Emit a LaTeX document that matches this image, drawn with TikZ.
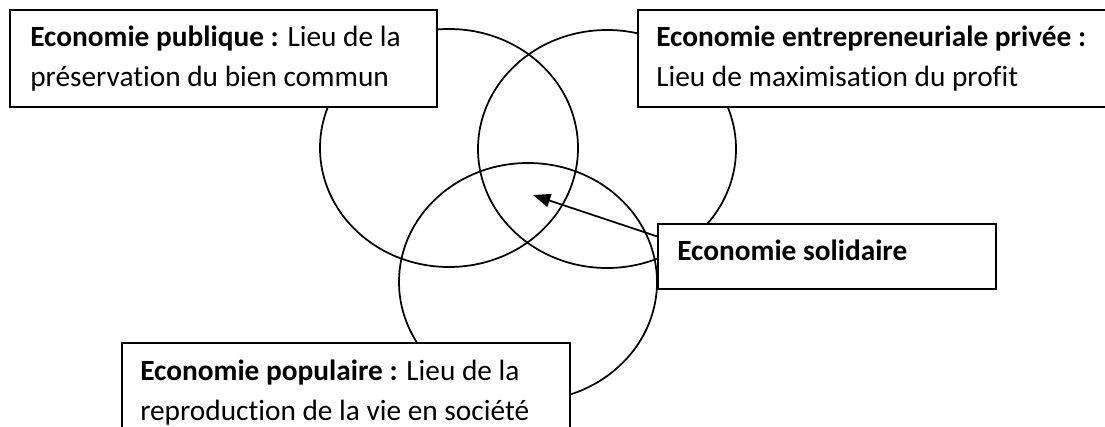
\documentclass[tikz,border=0pt]{standalone}
\usepackage{fontspec}
\setmainfont[Ligatures={NoCommon}]{Carlito}
\usetikzlibrary{arrows.meta,calc}
\begin{document}
\begin{tikzpicture}[x=0.75pt,y=-0.75pt,
  ring/.style={draw=black,line width=1.3pt},
  boxnode/.style={draw=black,fill=white,line width=1.5pt,rectangle,inner sep=0pt,anchor=north west},
  txt/.style={anchor=base west,inner sep=0pt,font=\fontsize{22pt}{30pt}\selectfont},
  pointer/.style={draw=black,line width=1.3pt,-{Triangle[length=13pt,width=10pt]}}]
\useasboundingbox (0,0) rectangle (1105,427);
% circles
\draw[ring] (449,148) ellipse [x radius=129, y radius=119];
\draw[ring] (607,149) ellipse [x radius=129, y radius=119];
\draw[ring] (528,282) ellipse [x radius=129, y radius=119];
% boxes
\node[boxnode,minimum width={427*0.75pt},minimum height={97*0.75pt}] (pub) at (9,9) {};
\node[boxnode,minimum width={480*0.75pt},minimum height={97*0.75pt}] (priv) at (637,9) {};
\node[boxnode,minimum width={448*0.75pt},minimum height={100*0.75pt}] (pop) at (121,342) {};
\node[boxnode,minimum width={338*0.75pt},minimum height={65*0.75pt}] (sol) at (657,223) {};
% texts
\node[txt] (pub1) at (30,47) {\textbf{Economie publique :} Lieu de la};
\node[txt] (pub2) at (30,87) {préservation du bien commun};
\node[txt] (priv1) at (656,47) {\textbf{Economie entrepreneuriale privée :}};
\node[txt] (priv2) at (656,87) {Lieu de maximisation du profit};
\node[txt] (pop1) at (140,380) {\textbf{Economie populaire :} Lieu de la};
\node[txt] (pop2) at (140,420) {reproduction de la vie en société};
\node[txt] (sol1) at (677,261) {\textbf{Economie solidaire}};
% arrow
\coordinate (solstart) at ($(sol.north west)!0.2!(sol.south west)$);
\coordinate (tip) at (533,195);
\draw[pointer] (solstart) -- (tip);
\end{tikzpicture}
\end{document}
